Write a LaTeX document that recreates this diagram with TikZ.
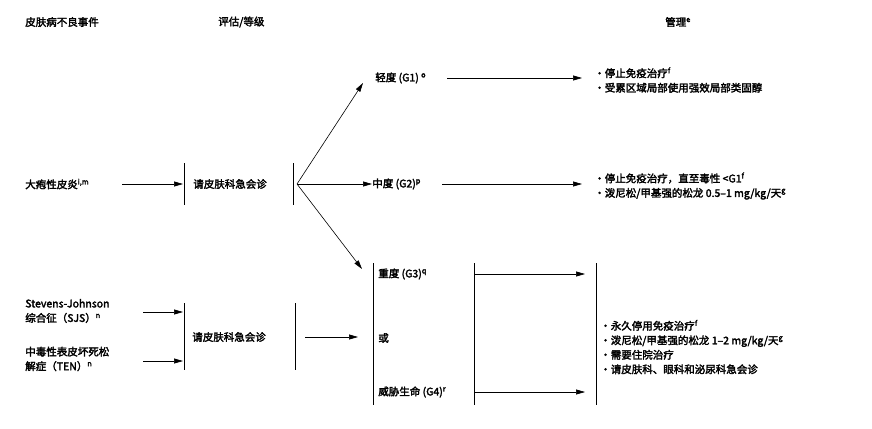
\documentclass[tikz,border=0pt]{standalone}
\usepackage{fontspec}
\setmainfont{Liberation Sans}
\newfontfamily\cjk[AutoFakeBold=2.5]{Noto Sans CJK SC}
\newcommand{\sups}[1]{\textsuperscript{#1}}
\usetikzlibrary{positioning,arrows.meta}
\begin{document}
\begin{tikzpicture}[x=1pt,y=-1pt,line width=0.6pt,
  font=\cjk\bfseries\fontsize{10.5}{14.5}\selectfont,
  txt/.style={anchor=west,inner sep=0pt,align=left},
  arr/.style={-{Stealth[length=9pt,width=5pt,inset=0pt]}},
  bar/.style={line width=0.9pt}]
\useasboundingbox (0,0) rectangle (872,428);
% headers
\node[txt] (h1) at (25,22) {皮肤病不良事件};
\node[txt] (h2) at (218,22) {评估/等级};
\node[txt] (h3) at (665,22) {管理\sups{e}};
% upper branch
\node[txt] (bp) at (25,184) {大疱性皮炎\sups{i,m}};
\coordinate (b1t) at (184,163); \coordinate (b1b) at (184,205);
\coordinate (b2t) at (293,163); \coordinate (b2b) at (293,205);
\node[txt] (c1) at (193,184) {请皮肤科急会诊};
\node[txt] (g1) at (375,78) {轻度 (G1) \sups{o}};
\node[txt] (g2) at (372,184) {中度 (G2)\sups{p}};
\node[txt] (m1) at (594,80) {•停止免疫治疗\sups{f}\\•受累区域局部使用强效局部类固醇};
\node[txt] (m2) at (594,186) {•停止免疫治疗，直至毒性 <G1\sups{f}\\•泼尼松/甲基强的松龙 0.5–1 mg/kg/天\sups{g}};
\draw[bar] (b1t) -- (b1b) (b2t) -- (b2b);
\draw[arr] (122,184) -- (183,184);
\draw[arr] (297,184) -- (363,83);
\draw[arr] (297,184) -- (g2.west);
\draw[arr] (297,184) -- (362,269);
\draw[arr] (447,78) -- (582,78);
\draw[arr] (442,184) -- (582,184);
% lower branch
\node[txt] (sjs) at (25,311) {Stevens-Johnson\\综合征（SJS）\sups{n}};
\node[txt] (ten) at (25,359) {中毒性表皮坏死松\\解症（TEN）\sups{n}};
\coordinate (b3t) at (184,303); \coordinate (b3b) at (184,370);
\coordinate (b4t) at (295,303); \coordinate (b4b) at (295,370);
\node[txt] (c2) at (192,337) {请皮肤科急会诊};
\coordinate (b5t) at (373,263); \coordinate (b5b) at (373,405);
\coordinate (b6t) at (474,263); \coordinate (b6b) at (474,405);
\coordinate (b7t) at (596,263); \coordinate (b7b) at (596,405);
\node[txt] (g3) at (378,274) {重度 (G3)\sups{q}};
\node[txt] (or) at (378,338) {或};
\node[txt] (g4) at (378,392) {威胁生命 (G4)\sups{r}};
\node[txt] (m3) at (600,347) {•永久停用免疫治疗\sups{f}\\•泼尼松/甲基强的松龙 1–2 mg/kg/天\sups{g}\\•需要住院治疗\\•请皮肤科、眼科和泌尿科急会诊};
\draw[bar] (b3t) -- (b3b) (b4t) -- (b4b) (b5t) -- (b5b) (b6t) -- (b6b) (b7t) -- (b7b);
\draw[arr] (143,312) -- (183,312);
\draw[arr] (143,361) -- (183,361);
\draw[arr] (305,337) -- (358,337);
\draw[arr] (475,274) -- (585,274);
\draw[arr] (475,392) -- (585,392);
\end{tikzpicture}
\end{document}
